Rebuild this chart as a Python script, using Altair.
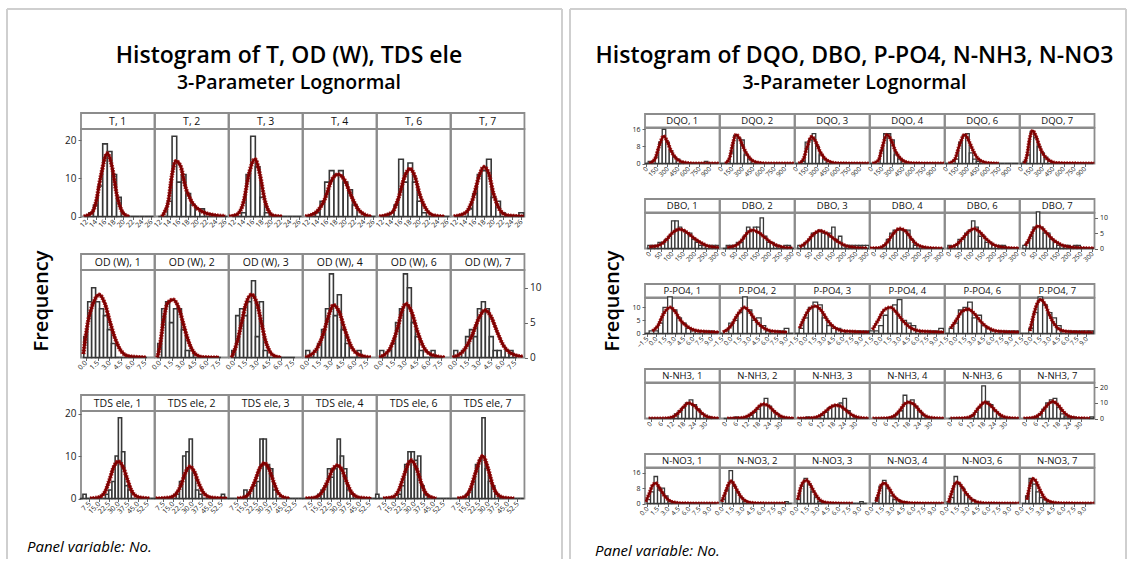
import altair as alt
import pandas as pd

FONT = "Open Sans"
GREY = "#8c8c8c"
RED = "#7f0000"
RED_EDGE = "#a31a1a"
BAR_EDGE = "#383838"
FRAME = "#cfcfcf"

GROUPS = [1, 2, 3, 4, 6, 7]
LEFT_TITLE = "Histogram of T, OD (W), TDS ele"
RIGHT_TITLE = "Histogram of DQO, DBO, P-PO4, N-NH3, N-NO3"
SUBTITLE = "3-Parameter Lognormal"
Y_TITLE = "Frequency"
FOOTNOTE = "Panel variable: No."

# ---------------- T ----------------
T_TICKS = [12, 14, 16, 18, 20, 22, 24, 26]
T_BINS = (12, 1, 15)  # first bin centre, bin width, number of bins
T_COUNTS = [
    {13: 1, 14: 3, 15: 8, 16: 19, 17: 17, 18: 11, 19: 5},
    {14: 4, 15: 21, 16: 9, 17: 11, 18: 6, 19: 3, 20: 2, 21: 2},
    {14: 1, 15: 11, 16: 21, 17: 13, 18: 5, 19: 1},
    {14: 1, 15: 4, 16: 9, 17: 12, 18: 11, 19: 12, 20: 9, 21: 7, 22: 3},
    {14: 1, 15: 3, 16: 15, 17: 9, 18: 14, 19: 9, 20: 4, 21: 1},
    {15: 2, 16: 6, 17: 11, 18: 12, 19: 15, 20: 5, 21: 4, 22: 1, 26: 1},
]
T_CURVES = [
    [(11.4, 0), (13, 0.8), (14, 3.5), (15, 10), (16.5, 16.5), (17.6, 12.5), (18.5, 6), (19.5, 1.8), (20.5, 0.3), (21.3, 0)],
    [(12.3, 0), (12.8, 1), (13.7, 4), (14.5, 11), (15.3, 14.5), (16.3, 13.3), (17.4, 7.7), (18.6, 4.2), (21, 1.3), (24, 0.3), (26, 0.1)],
    [(10.8, 0), (12.5, 0.5), (14, 4), (15, 10.5), (16.4, 15), (17.5, 11), (18.5, 4.5), (19.5, 1.2), (20.5, 0.2), (22.3, 0)],
    [(11.3, 0), (13.5, 1), (15.5, 4.5), (17, 9.5), (18.4, 11), (19.8, 9.5), (21.2, 5.5), (22.8, 1.8), (24.3, 0.4), (25.6, 0)],
    [(11.3, 0), (14, 1), (15.5, 5), (16.8, 10.5), (17.9, 12.5), (19, 10.5), (20, 6), (21.5, 1.8), (23, 0.3), (25.4, 0)],
    [(11.4, 0), (14, 1), (15.5, 4.5), (17, 11), (17.9, 13), (18.9, 11.5), (20, 6), (21.5, 1.5), (23, 0.3), (26.6, 0)],
]

# ---------------- OD (W) ----------------
OD_TICKS = [0.0, 1.5, 3.0, 4.5, 6.0, 7.5]
OD_BINS = (0.0, 0.5, 16)
OD_COUNTS = [
    {0.0: 3, 0.5: 8, 1.0: 10, 1.5: 8, 2.0: 7, 2.5: 6, 3.0: 4, 3.5: 2},
    {0.0: 2, 0.5: 7, 1.0: 8, 1.5: 5, 2.0: 7, 2.5: 7, 3.0: 4, 3.5: 1, 4.0: 1},
    {0.0: 1, 0.5: 6, 1.0: 7, 1.5: 6, 2.0: 8, 2.5: 11, 3.0: 3, 3.5: 8, 4.0: 1},
    {0.0: 1, 1.0: 1, 1.5: 2, 2.0: 4, 2.5: 7, 3.0: 12, 3.5: 6, 4.0: 9, 4.5: 4, 5.0: 2, 6.5: 1},
    {0.0: 1, 1.0: 1, 1.5: 2, 2.0: 5, 2.5: 7, 3.0: 12, 3.5: 10, 4.0: 5, 4.5: 3, 5.0: 1, 6.5: 1},
    {0.0: 1, 1.0: 1, 1.5: 3, 2.0: 4, 2.5: 3, 3.0: 7, 3.5: 8, 4.0: 7, 4.5: 3, 5.0: 1, 5.5: 1, 6.5: 1, 7.0: 1},
]
OD_CURVES = [
    [(-0.3, 0.5), (0.3, 5.2), (0.95, 7.8), (1.7, 9), (2.4, 7.8), (3.05, 5.2), (3.7, 2.8), (4.5, 0.9), (5.4, 0.2), (7.6, 0)],
    [(-0.3, 0), (0, 1.5), (0.5, 5.5), (1.0, 7.8), (1.7, 8.3), (2.5, 6.8), (3.0, 4.8), (3.5, 2.8), (4.5, 0.5), (5.5, 0.05), (7.5, 0)],
    [(-0.25, 0), (0.5, 2.5), (1.0, 5), (1.5, 7.5), (2.25, 9), (3.0, 7.5), (3.5, 5), (4.0, 2.5), (4.5, 1), (5.2, 0.2), (6, 0)],
    [(-0.3, 0), (1, 1), (2, 3.5), (2.7, 6.2), (3.25, 7.5), (4, 6.5), (4.7, 4), (5.5, 1.6), (6.5, 0.4), (8, 0)],
    [(-0.3, 0), (1, 1.2), (2, 4.2), (2.6, 6.8), (3.05, 7.7), (3.8, 6.5), (4.5, 3.8), (5.3, 1.5), (6.3, 0.4), (8, 0)],
    [(-0.4, 0), (1, 1), (2, 3), (3, 5.8), (3.7, 6.8), (4.5, 5.8), (5.2, 3.8), (6, 1.8), (7, 0.6), (8.5, 0.1)],
]

# ---------------- TDS ele ----------------
TDS_TICKS = [7.5, 15.0, 22.5, 30.0, 37.5, 45.0, 52.5]
TDS_BINS = (1.25, 2.5, 23)
TDS_COUNTS = [
    {3.75: 1, 21.25: 1, 23.75: 2, 26.25: 4, 28.75: 10, 31.25: 19, 33.75: 11, 36.25: 3, 38.75: 2},
    {18.75: 1, 21.25: 4, 23.75: 10, 26.25: 11, 28.75: 14, 31.25: 6, 33.75: 2, 36.25: 1, 53.75: 1},
    {13.75: 2, 16.25: 1, 21.25: 3, 23.75: 4, 26.25: 14, 28.75: 14, 31.25: 8, 33.75: 7, 36.25: 2},
    {13.75: 1, 16.25: 2, 18.75: 3, 21.25: 7, 23.75: 5, 26.25: 7, 28.75: 14, 31.25: 10, 33.75: 7, 36.25: 2, 38.75: 1},
    {1.25: 1, 18.75: 1, 21.25: 3, 23.75: 8, 26.25: 11, 28.75: 11, 31.25: 9, 33.75: 10, 36.25: 3, 38.75: 1},
    {13.75: 1, 16.25: 2, 18.75: 4, 21.25: 8, 23.75: 9, 26.25: 19, 28.75: 7, 31.25: 4, 33.75: 3, 36.25: 1},
]
TDS_CURVES = [
    [(8, 0), (15, 0.3), (20, 1.8), (23, 4.3), (26.5, 7.5), (30, 8.7), (33.5, 7.5), (37, 4.5), (40, 2), (45, 0.4), (54, 0)],
    [(1.6, 0), (12, 0.2), (17, 1), (21, 3), (24.5, 6), (28, 7.5), (31.5, 6.3), (35, 3.5), (39, 1.2), (45, 0.2), (57, 0)],
    [(7.4, 0), (13, 0.3), (17, 1.4), (21, 4), (25, 7.2), (28.4, 8.3), (32, 7), (35.5, 4), (39, 1.4), (44, 0.2), (48, 0)],
    [(3, 0), (10, 0.2), (15, 1.2), (20, 4), (24, 6.8), (27.5, 7.8), (31, 6.9), (35, 3.8), (39, 1.3), (45, 0.2), (54, 0)],
    [(5.7, 0), (13, 0.3), (18, 2), (22, 5.5), (27.3, 9), (32, 6.8), (35.5, 3.5), (39, 1.2), (44, 0.2), (47, 0)],
    [(6, 0), (12, 0.5), (16, 2.2), (20, 6), (25.6, 10), (30, 6.8), (33.5, 3), (37, 1), (42, 0.2), (50, 0)],
]

# ---------------- DQO ----------------
DQO_TICKS = [0, 150, 300, 450, 600, 750, 900]
DQO_BINS = (0, 50, 21)
DQO_COUNTS = [
    {50: 1, 150: 3, 200: 10, 250: 16, 300: 10, 350: 6, 400: 3, 450: 2, 500: 1, 850: 1},
    {100: 1, 150: 5, 200: 13, 250: 12, 300: 11, 350: 4, 400: 2, 450: 1},
    {100: 1, 150: 10, 200: 11, 250: 14, 300: 8, 350: 4, 400: 2, 450: 1},
    {150: 6, 200: 14, 250: 14, 300: 11, 350: 4, 400: 2, 450: 1},
    {150: 2, 200: 10, 250: 13, 300: 14, 350: 5, 400: 2, 450: 1},
    {50: 1, 100: 4, 150: 15, 200: 12, 250: 8, 300: 5, 350: 3, 400: 1},
]
DQO_CURVES = [
    [(40, 0), (120, 2), (180, 8), (245, 12.8), (300, 10), (350, 6), (420, 2.5), (500, 0.8), (600, 0.2), (700, 0), (1040, 0)],
    [(57, 0), (120, 3), (160, 9), (210, 13.5), (260, 11.5), (320, 7), (380, 3.5), (450, 1.2), (550, 0.3), (650, 0.05), (1040, 0)],
    [(31, 0), (100, 2), (150, 7.5), (215, 12.5), (270, 10.5), (330, 6), (400, 2.5), (480, 0.8), (600, 0.1), (1040, 0)],
    [(16, 0), (100, 1.5), (150, 7), (220, 13.5), (280, 11), (340, 6), (410, 2.5), (500, 0.6), (600, 0.1), (1040, 0)],
    [(31, 0), (120, 2), (180, 8), (262, 13.5), (320, 10.5), (380, 6), (450, 2.3), (550, 0.5), (650, 0.1), (748, 0)],
    [(41, 0), (80, 4), (120, 12), (160, 15.3), (210, 12.5), (270, 7), (340, 3), (420, 1), (520, 0.2), (1040, 0)],
]

# ---------------- DBO ----------------
DBO_TICKS = [0, 50, 100, 150, 200, 250, 300]
DBO_BINS = (0, 15, 21)
DBO_COUNTS = [
    {0: 1, 15: 1, 30: 1, 45: 2, 60: 2, 75: 3, 90: 4, 105: 9, 120: 9, 135: 7, 150: 6, 165: 5, 180: 5,
     195: 3, 210: 2, 225: 1, 240: 1, 255: 1, 270: 1, 285: 1, 300: 1},
    {15: 1, 30: 1, 45: 1, 60: 2, 75: 2, 90: 4, 105: 7, 120: 6, 135: 7, 150: 7, 165: 10, 180: 4,
     195: 2, 210: 2, 225: 1, 240: 1, 270: 1, 285: 1},
    {0: 1, 15: 1, 30: 2, 45: 3, 60: 5, 75: 5, 90: 6, 105: 5, 120: 5, 135: 5, 150: 7, 165: 3, 180: 4,
     195: 1, 210: 1, 225: 1, 240: 1, 255: 1, 270: 1, 285: 1, 300: 1},
    {45: 1, 60: 3, 75: 5, 90: 6, 105: 6, 120: 6, 135: 6, 150: 6, 165: 3, 180: 1},
    {0: 1, 30: 1, 45: 3, 60: 3, 75: 5, 90: 6, 105: 9, 120: 7, 135: 4, 150: 4, 165: 2, 180: 2,
     195: 1, 210: 1, 225: 1, 240: 1},
    {0: 1, 15: 2, 30: 4, 45: 7, 60: 12, 75: 7, 90: 5, 105: 5, 120: 3, 135: 2, 150: 1, 165: 1, 180: 1,
     195: 1, 225: 1, 240: 1},
]
DBO_CURVES = [
    [(-1, 0.5), (40, 1), (70, 2.5), (100, 5), (132, 6.3), (165, 5.3), (195, 3.5), (225, 2), (260, 0.8), (308, 0.3)],
    [(12, 0.3), (50, 1), (80, 3), (100, 5), (124, 6), (150, 5.3), (180, 3.5), (210, 1.8), (240, 0.8), (270, 0.3), (300, 0.1)],
    [(1, 0.5), (30, 2), (60, 4.5), (89, 5.8), (120, 5), (150, 3.3), (180, 1.8), (210, 0.8), (250, 0.3), (300, 0.1)],
    [(-20, 0.1), (20, 0.2), (50, 1.5), (80, 4.5), (111, 6.5), (140, 5.5), (165, 3), (190, 1.2), (220, 0.4), (260, 0.1), (300, 0)],
    [(-4, 0.3), (30, 1.2), (60, 3.5), (85, 5.5), (108, 6.5), (135, 5.3), (160, 3.3), (190, 1.5), (220, 0.6), (260, 0.2), (308, 0.05)],
    [(4, 1), (20, 3), (40, 6), (60, 7.3), (80, 6.5), (105, 4.5), (130, 2.7), (160, 1.3), (200, 0.5), (250, 0.2), (308, 0.05)],
]

# ---------------- P-PO4 ----------------
PPO4_TICKS = [-1.5, 0.0, 1.5, 3.0, 4.5, 6.0, 7.5, 9.0]
PPO4_BINS = (-1.5, 0.75, 16)
PPO4_COUNTS = [
    {-0.75: 1, 0.0: 1, 0.75: 4, 1.5: 10, 2.25: 14, 3.0: 9, 3.75: 6, 4.5: 4, 5.25: 2, 6.0: 1, 6.75: 1, 7.5: 1, 8.25: 1, 9.0: 1},
    {-0.75: 1, 0.0: 4, 0.75: 5, 1.5: 8, 2.25: 14, 3.0: 9, 3.75: 5, 4.5: 6, 5.25: 3, 6.0: 1, 6.75: 1, 7.5: 1, 8.25: 1, 9.0: 2},
    {-0.75: 2, 0.0: 6, 0.75: 10, 1.5: 12, 2.25: 11, 3.0: 6, 3.75: 3, 4.5: 2, 5.25: 2, 6.0: 1, 6.75: 1, 7.5: 1, 8.25: 1, 9.0: 1, 9.75: 1},
    {-1.5: 1, -0.75: 1, 0.0: 3, 0.75: 7, 1.5: 10, 2.25: 11, 3.0: 13, 3.75: 5, 4.5: 4, 5.25: 3, 6.0: 1, 6.75: 1, 7.5: 1, 8.25: 1, 9.0: 1, 9.75: 2},
    {-0.75: 2, 0.0: 4, 0.75: 9, 1.5: 10, 2.25: 12, 3.0: 6, 3.75: 7, 4.5: 3, 5.25: 2, 6.0: 1, 6.75: 1, 7.5: 1, 8.25: 1, 9.0: 1, 9.75: 1},
    {0.0: 2, 0.75: 8, 1.5: 14, 2.25: 11, 3.0: 8, 3.75: 6, 4.5: 3, 5.25: 1, 6.0: 1, 6.75: 1, 7.5: 1, 8.25: 1, 9.0: 1, 9.75: 1},
]
PPO4_CURVES = [
    [(-0.6, 1), (0.3, 3), (1.2, 7.5), (2.3, 10), (3.2, 8), (4, 5), (5, 2.8), (6, 1.5), (7.5, 0.8), (10.2, 0.5)],
    [(-1.3, 0.5), (0, 3), (1, 7), (2.2, 10), (3, 8.3), (4, 5), (5, 2.6), (6, 1.3), (7, 0.8), (9.1, 0.5)],
    [(-1.05, 2), (-0.3, 6), (0.6, 9.5), (1.6, 10.5), (2.5, 8.7), (3.5, 5), (4.5, 2.5), (5.5, 1.3), (7, 0.8), (10.2, 0.5)],
    [(-1.4, 1.5), (-0.5, 5), (0.5, 9), (1.5, 10), (2.5, 8), (3.5, 5), (4.5, 2.7), (5.5, 1.4), (7, 0.8), (10.2, 0.5)],
    [(-0.9, 2), (0, 5), (1, 8.5), (2, 9.3), (3, 7.5), (4, 4.6), (5, 2.5), (6, 1.3), (7.5, 0.7), (10.2, 0.5)],
    [(-0.2, 1), (0.3, 6), (1, 11.5), (1.6, 13), (2.3, 11), (3, 7), (3.8, 3.5), (4.6, 1.6), (6, 0.7), (8, 0.5), (10, 0.4)],
]

# ---------------- N-NH3 ----------------
NH3_TICKS = [0, 6, 12, 18, 24, 30]
NH3_BINS = (0, 2, 19)
NH3_COUNTS = [
    {12: 1, 14: 3, 16: 5, 18: 7, 20: 10, 22: 12, 24: 9, 26: 6, 28: 3, 30: 2, 32: 1},
    {6: 1, 14: 2, 16: 4, 18: 6, 20: 9, 22: 13, 24: 8, 26: 5, 28: 3, 30: 1},
    {4: 1, 12: 2, 14: 4, 16: 7, 18: 8, 20: 9, 22: 10, 24: 13, 26: 5, 28: 2, 30: 1},
    {10: 1, 12: 3, 14: 5, 16: 15, 18: 11, 20: 12, 22: 8, 24: 5, 26: 2, 28: 1},
    {12: 2, 14: 4, 16: 7, 18: 21, 20: 11, 22: 9, 24: 5, 26: 3, 28: 1},
    {6: 1, 8: 3, 10: 6, 12: 10, 14: 12, 16: 13, 18: 7, 20: 3, 22: 1, 24: 1, 26: 1, 36: 1},
]
NH3_CURVES = [
    [(-1, 0), (8, 0.1), (12, 1), (15, 3.5), (18, 7.5), (20.6, 10), (23.5, 8.5), (26.5, 5), (29.5, 2), (33, 0.5), (37.4, 0)],
    [(0.9, 0), (8, 0.3), (12, 1.5), (16, 5), (19, 8.5), (20.6, 9.3), (23.5, 8), (26.5, 4.5), (30, 1.5), (34, 0.3), (37.4, 0)],
    [(-1.7, 0), (6, 0.3), (10, 1.5), (14, 5), (17, 7.8), (19.3, 8.5), (22, 7.8), (25, 5), (28, 2.3), (32, 0.6), (37, 0.1)],
    [(-1.6, 0), (6, 0.2), (10, 1.5), (13, 5), (16, 9.5), (18.1, 10.5), (21, 9), (24, 5), (27, 1.8), (31, 0.4), (37.4, 0)],
    [(0, 0), (8, 0.3), (12, 2), (15, 6.5), (18.7, 10.5), (21.5, 8.7), (24.5, 5), (27.5, 2), (31, 0.5), (37.4, 0)],
    [(-1.1, 0), (4, 0.5), (8, 3), (11, 7.5), (14.7, 11), (17.5, 9), (20.5, 4.5), (23.5, 1.5), (27, 0.4), (32, 0.1), (35, 0)],
]

# ---------------- N-NO3 ----------------
NO3_TICKS = [0.0, 1.5, 3.0, 4.5, 6.0, 7.5, 9.0]
NO3_BINS = (0.25, 0.5, 20)
NO3_COUNTS = [
    {0.25: 2, 0.75: 6, 1.25: 14, 1.75: 7, 2.25: 8, 2.75: 4, 3.25: 1},
    {0.25: 2, 0.75: 7, 1.25: 17, 1.75: 9, 2.25: 6, 2.75: 3, 3.25: 1, 9.25: 1},
    {0.25: 2, 0.75: 9, 1.25: 13, 1.75: 10, 2.25: 6, 2.75: 3, 3.25: 1, 3.75: 1, 9.25: 1},
    {0.75: 3, 1.25: 9, 1.75: 12, 2.25: 8, 2.75: 4, 3.25: 2, 3.75: 2, 4.25: 1, 4.75: 1},
    {0.25: 1, 0.75: 3, 1.25: 14, 1.75: 10, 2.25: 8, 2.75: 5, 3.25: 3, 3.75: 2, 4.25: 1},
    {0.75: 4, 1.25: 13, 1.75: 10, 2.25: 6, 2.75: 3, 3.25: 2, 3.75: 1},
]
NO3_CURVES = [
    [(-0.2, 1), (0.3, 5), (0.8, 9.5), (1.25, 10.5), (1.8, 8), (2.5, 4), (3.2, 1.5), (4, 0.5), (5, 0.1), (10.4, 0)],
    [(-0.05, 1), (0.5, 6), (1, 10.5), (1.35, 11.5), (1.9, 8.5), (2.6, 4), (3.3, 1.5), (4.2, 0.4), (5.5, 0.1), (9.1, 0)],
    [(0.1, 2), (0.5, 8), (1, 11.5), (1.4, 12), (2, 9), (2.7, 4.5), (3.4, 1.5), (4.3, 0.4), (5.5, 0.1), (8, 0)],
    [(0.6, 1), (1, 6), (1.4, 10), (1.8, 10.5), (2.4, 8), (3.1, 4), (3.9, 1.5), (4.8, 0.5), (6, 0.1), (10.4, 0)],
    [(0.2, 0.5), (0.6, 5), (1.1, 10), (1.5, 11), (2.1, 8.8), (2.8, 5), (3.6, 2), (4.5, 0.6), (6, 0.1), (10.4, 0)],
    [(0.7, 2), (1.1, 9), (1.5, 12.8), (1.9, 12), (2.5, 7.5), (3.2, 3), (4, 1), (5, 0.3), (6.5, 0.1), (10.4, 0)],
]

LEFT_ROWS = [
    dict(name="T", ticks=T_TICKS, fmt="d", xdom=[10.8, 26.7], ymax=22.9, yticks=[0, 10, 20], side="left",
         bins=T_BINS, counts=T_COUNTS, curves=T_CURVES),
    dict(name="OD (W)", ticks=OD_TICKS, fmt=".1f", xdom=[-0.6, 8.7], ymax=12.55, yticks=[0, 5, 10], side="right",
         bins=OD_BINS, counts=OD_COUNTS, curves=OD_CURVES),
    dict(name="TDS ele", ticks=TDS_TICKS, fmt=".1f", xdom=[1, 58], ymax=20.6, yticks=[0, 10, 20], side="left",
         bins=TDS_BINS, counts=TDS_COUNTS, curves=TDS_CURVES),
]
RIGHT_ROWS = [
    dict(name="DQO", ticks=DQO_TICKS, fmt="d", xdom=[-20, 1040], ymax=16.6, yticks=[0, 8, 16], side="left",
         bins=DQO_BINS, counts=DQO_COUNTS, curves=DQO_CURVES),
    dict(name="DBO", ticks=DBO_TICKS, fmt="d", xdom=[-20, 310], ymax=11.6, yticks=[0, 5, 10], side="right",
         bins=DBO_BINS, counts=DBO_COUNTS, curves=DBO_CURVES),
    dict(name="P-PO4", ticks=PPO4_TICKS, fmt=".1f", xdom=[-1.8, 10.3], ymax=13.6, yticks=[0, 5, 10], side="left",
         bins=PPO4_BINS, counts=PPO4_COUNTS, curves=PPO4_CURVES),
    dict(name="N-NH3", ticks=NH3_TICKS, fmt="d", xdom=[-3, 37.5], ymax=22.9, yticks=[0, 10, 20], side="right",
         bins=NH3_BINS, counts=NH3_COUNTS, curves=NH3_CURVES),
    dict(name="N-NO3", ticks=NO3_TICKS, fmt=".1f", xdom=[-0.3, 10.4], ymax=18.4, yticks=[0, 8, 16], side="left",
         bins=NO3_BINS, counts=NO3_COUNTS, curves=NO3_CURVES),
]

BORDER = alt.ViewBackground(stroke=GREY, strokeWidth=1.8)
NOBORDER = alt.ViewBackground(stroke="transparent")
ONE = pd.DataFrame({"k": [0]})


def empty(w, h):
    return alt.Chart(ONE).mark_point(opacity=0, size=1).encode(
        x=alt.value(0), y=alt.value(0)).properties(width=w, height=h, view=NOBORDER)


def strip_chart(label, w, h, fs):
    return alt.Chart(pd.DataFrame({"t": [label]})).mark_text(
        fontSize=fs, align="center", baseline="middle", color="#111111"
    ).encode(text="t:N", x=alt.value(w / 2), y=alt.value(h / 2 + 0.5)).properties(
        width=w, height=h, view=BORDER)


def plot_chart(row, gi, w, h, st):
    c0, bw, nb = row["bins"]
    centers = [round(c0 + i * bw, 4) for i in range(nb)]
    cnt = row["counts"][gi]
    bars = pd.DataFrame({
        "lo": [c - bw / 2 for c in centers],
        "hi": [c + bw / 2 for c in centers],
        "n": [cnt.get(c, 0) for c in centers],
        "z": [0] * nb,
    })
    curve = pd.DataFrame(row["curves"][gi], columns=["lo", "n"])
    xs = alt.Scale(domain=row["xdom"], nice=False, zero=False)
    ys = alt.Scale(domain=[0, row["ymax"]], nice=False, zero=False)
    xaxis = alt.Axis(values=row["ticks"], format=row["fmt"], labelAngle=-45, labelAlign="right",
                     labelBaseline="middle", labelFontSize=st["xfs"], labelOverlap=False,
                     labelFlush=False, labelPadding=1, tickSize=3, tickColor="#666666",
                     domain=False, grid=False, labelColor="#222222")
    show_y = (row["side"] == "left" and gi == 0) or (row["side"] == "right" and gi == 5)
    if show_y:
        yaxis = alt.Axis(orient=row["side"], values=row["yticks"], labelFontSize=st["yfs"],
                         labelOverlap=False, labelFlush=False, labelPadding=2, tickSize=3,
                         tickColor="#666666", domain=False, grid=False, labelColor="#222222")
    else:
        yaxis = None
    enc_x = alt.X("lo:Q", scale=xs, axis=xaxis, title=None)
    enc_y = alt.Y("n:Q", scale=ys, axis=yaxis, title=None)
    b = alt.Chart(bars).mark_rect(fill="white", stroke=BAR_EDGE, strokeWidth=st["bsw"]).encode(
        x=enc_x, x2="hi:Q", y=enc_y, y2="z:Q")
    halo = alt.Chart(curve).mark_line(color=RED_EDGE, strokeWidth=st["lw"] + 1.6, strokeDash=[1.5, 1.2],
                                      interpolate="monotone", clip=True, opacity=0.9).encode(x=enc_x, y=enc_y)
    core = alt.Chart(curve).mark_line(color=RED, strokeWidth=st["lw"], interpolate="monotone",
                                      clip=True).encode(x=enc_x, y=enc_y)
    return alt.layer(b, halo, core).properties(width=w, height=h, view=BORDER)


def make_panel(title, rows, st):
    fw, fh = st["fw"], st["fh"]
    cw = st["colw"]
    mr = fw - st["ml"] - 6 * cw
    col_w = [st["ml"]] + [cw] * 6 + [mr]

    one = pd.DataFrame({"title": [title], "sub": [SUBTITLE]})
    t1 = alt.Chart(one).mark_text(fontSize=23, fontWeight=600, align="center", baseline="alphabetic",
                                  color="black").encode(
        text="title:N", x=alt.value(st["cx"]), y=alt.value(53.5))
    t2 = alt.Chart(one).mark_text(fontSize=19.5, fontWeight=600, align="center", baseline="alphabetic",
                                  color="black").encode(
        text="sub:N", x=alt.value(st["cx"]), y=alt.value(79.5))
    rl = alt.Chart(one).mark_rule(color=FRAME, strokeWidth=2).encode(
        x=alt.value(0), y=alt.value(0), y2=alt.value(fh))
    rt = alt.Chart(one).mark_rule(color=FRAME, strokeWidth=2).encode(
        x=alt.value(0), x2=alt.value(fw), y=alt.value(0))
    rr = alt.Chart(one).mark_rule(color=FRAME, strokeWidth=2).encode(
        x=alt.value(fw), y=alt.value(0), y2=alt.value(fh))
    title_cell = alt.layer(t1, t2, rl, rt, rr).properties(width=col_w[0], height=st["th"], view=NOBORDER)

    freq_cell = alt.Chart(pd.DataFrame({"t": [Y_TITLE]})).mark_text(
        angle=270, fontSize=20, fontWeight=600, align="center", baseline="middle", color="black"
    ).encode(text="t:N", x=alt.value(st["fqx"]), y=alt.value(st["fqy"])).properties(
        width=col_w[0], height=st["striph"], view=NOBORDER)

    foot_cell = alt.Chart(pd.DataFrame({"t": [FOOTNOTE]})).mark_text(
        fontSize=15, fontStyle="italic", align="left", baseline="alphabetic", color="black"
    ).encode(text="t:N", x=alt.value(st["ftx"]), y=alt.value(st["fty"])).properties(
        width=col_w[0], height=st["fth"], view=NOBORDER)

    cells = [title_cell] + [empty(w, st["th"]) for w in col_w[1:]]
    for ri, r in enumerate(rows):
        first = freq_cell if ri == 0 else empty(col_w[0], st["striph"])
        cells += [first]
        cells += [strip_chart(f"{r['name']}, {g}", cw, st["striph"], st["sfs"]) for g in GROUPS]
        cells += [empty(mr, st["striph"])]
        cells += [empty(col_w[0], st["ploth"])]
        cells += [plot_chart(r, i, cw, st["ploth"], st) for i in range(6)]
        cells += [empty(mr, st["ploth"])]
        if ri < len(rows) - 1:
            cells += [empty(w, st["gap"]) for w in col_w]
    cells += [foot_cell] + [empty(w, st["fth"]) for w in col_w[1:]]
    return alt.concat(*cells, columns=8, spacing=0, bounds="flush", align="each")


LEFT_STYLE = dict(fw=555, fh=550, th=104, cx=282, ml=73.3, fqx=35, fqy=188,
                  ftx=20, fty=53, fth=60, colw=73.45, striph=16, ploth=87.5, gap=37,
                  sfs=10.5, xfs=7, yfs=10, lw=2.8, bsw=1.6)
RIGHT_STYLE = dict(fw=556, fh=550, th=105, cx=284.5, ml=75, fqx=43, fqy=187,
                   ftx=25, fty=51.5, fth=58, colw=74.5, striph=13.5, ploth=35.5, gap=35,
                   sfs=9.5, xfs=6.5, yfs=7, lw=2.4, bsw=1.3)

left = make_panel(LEFT_TITLE, LEFT_ROWS, LEFT_STYLE)
right = make_panel(RIGHT_TITLE, RIGHT_ROWS, RIGHT_STYLE)

chart = alt.hconcat(left, right, spacing=1).properties(
    padding={"left": 5, "top": 7, "right": 0, "bottom": 0},
    background="white",
).configure(font=FONT).configure_view(stroke="transparent")

chart.save("out.html", embed_options={"renderer": "svg", "actions": False})
